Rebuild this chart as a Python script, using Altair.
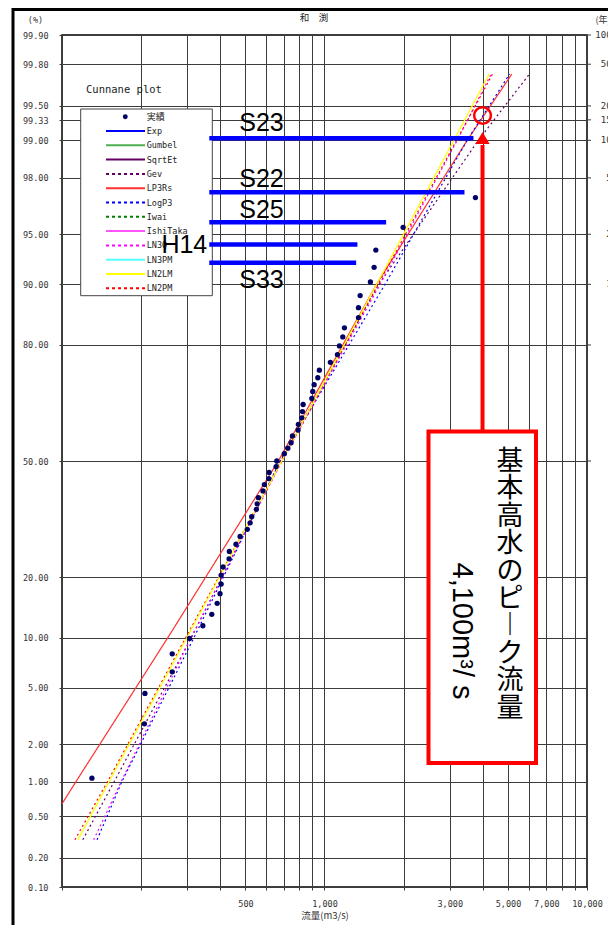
import altair as alt
import pandas as pd
from statistics import NormalDist

# ---------------- data ----------------
station = "和　渕"

# observed annual maxima (Cunnane plotting positions)
obs_flow = [130, 206, 207, 263, 263, 306, 344, 372, 390, 400, 404, 404, 411, 433, 434,
            460, 477, 508, 521, 528, 550, 554, 560, 583, 590, 613, 615, 654, 658, 703,
            725, 746, 755, 793, 795, 819, 824, 829, 895, 902, 913, 943, 956, 1053, 1120,
            1140, 1174, 1191, 1347, 1347, 1367, 1496, 1545, 1569, 1993, 3758]
obs_prob = [1.07, 2.83, 4.59, 6.31, 8.09, 9.91, 11.6, 13.3, 15.1, 16.8, 18.6, 20.4, 22.1, 23.9, 25.6,
            27.3, 29.2, 31.0, 32.7, 34.3, 36.3, 37.8, 39.5, 41.4, 43.2, 44.9, 46.7, 48.4, 50.0, 52.1,
            53.7, 55.3, 57.2, 58.9, 60.5, 62.3, 64.0, 65.9, 67.5, 69.3, 71.0, 72.7, 74.5, 76.3, 78.0,
            79.8, 81.6, 83.3, 85.1, 86.7, 88.5, 90.3, 92.0, 93.7, 95.5, 97.2]

# fitted distributions (flow at given non-exceedance probability, %)
fit_prob = [0.3, 1, 10, 50, 90, 99, 99.75]
fit_lp3rs = [82, 113, 253, 667, 1578, 3497, 5174]
fit_logp3 = [136, 169, 318, 677, 1700, 3494, 5070]
fit_gev = [120, 158, 311, 681, 1610, 3855, 6034]
fit_ln3q = [132, 168, 310, 689, 1629, 3201, 4315]
fit_ln2lm = [115, 151, 299, 687, 1579, 3110, 4240]
fit_ln2pm = [112, 149, 296, 688, 1602, 3187, 4365]

legend_names = ["実績", "Exp", "Gumbel", "SqrtEt", "Gev", "LP3Rs", "LogP3", "Iwai",
                "IshiTaka", "LN3Q", "LN3PM", "LN2LM", "LN2PM"]
legend_colors = ["#000066", "#0000ff", "#4caf50", "#660066", "#660066", "#ff3030", "#0000ff",
                 "#008000", "#ff55ff", "#ff00ff", "#55ffff", "#ffff00", "#ff0000"]
legend_dotted = [False, False, False, False, True, False, True, True, False, True, False, False, True]

# historical floods
event_label = ["S23", "S22", "S25", "H14", "S33"]
event_flow = [3694, 3414, 1717, 1335, 1320]
event_prob = [99.04, 97.44, 95.83, 94.18, 92.48]
event_start_flow = 364

# design flood annotation
design_flow = 4000
design_prob = 99.39
design_text = "基本高水のピーク流量"
design_value = "4,100m³/ s"

# axes
y_tick_pct = [99.9, 99.8, 99.5, 99.33, 99.0, 98.0, 95.0, 90.0, 80.0, 50.0,
              20.0, 10.0, 5.0, 2.0, 1.0, 0.5, 0.2, 0.1]
return_periods = [1000, 500, 200, 150, 100, 50, 20, 10, 5, 2]
x_grid = [100, 200, 300, 400, 500, 600, 700, 800, 900, 1000,
          2000, 3000, 4000, 5000, 6000, 7000, 8000, 9000, 10000]
x_label_values = [500, 1000, 3000, 5000, 7000, 10000]

# ---------------- chart ----------------
nd = NormalDist()
y_tick_z = [nd.inv_cdf(p / 100) for p in y_tick_pct]
z_lo, z_hi = min(y_tick_z), max(y_tick_z)

MONO = "DejaVu Sans Mono"
JP = "Noto Sans CJK JP"
GRID = "#3c3c3c"

x_label_expr = ("indexof([" + ",".join(str(v) for v in x_label_values) +
                "], datum.value) >= 0 ? format(datum.value, ',') : ''")

x_axis = alt.Axis(values=x_grid, labelExpr=x_label_expr, title="流量(m3/s)",
                  grid=True, gridColor=GRID, gridWidth=1, domain=False,
                  tickSize=3, tickColor=GRID, labelFont=MONO, labelFontSize=8.5,
                  labelColor="#333", labelPadding=9, labelFlush=False, labelOverlap=False,
                  titleFont=JP, titleFontSize=9.5, titleFontWeight="normal",
                  titleColor="#333", titlePadding=3)
y_axis = alt.Axis(values=y_tick_z, labelExpr="format(cumulativeNormal(datum.value)*100, '.2f')",
                  title="", grid=True, gridColor=GRID, gridWidth=1, domain=False,
                  tickSize=3, tickColor=GRID, labelFont=MONO, labelFontSize=8.5,
                  labelColor="#333", labelPadding=11, labelOverlap=False, labelFlush=False)

x_scale = alt.Scale(type="log", domain=[100, 10000], nice=False)
y_scale = alt.Scale(domain=[z_lo, z_hi], nice=False, zero=False)
X = alt.X("flow:Q", scale=x_scale, axis=x_axis)
Y = alt.Y("z:Q", scale=y_scale, axis=y_axis)
ZCALC = "quantileNormal(datum.p / 100)"

one = pd.DataFrame({"k": [0]})

layers = []

# outer frame
layers.append(alt.Chart(one).mark_rect(fillOpacity=0, stroke="#000", strokeWidth=3).encode(
    x=alt.value(-49), x2=alt.value(700), y=alt.value(-25.5), y2=alt.value(1000)))

# fitted lines
fits = {"LP3Rs": fit_lp3rs, "LogP3": fit_logp3, "Gev": fit_gev,
        "LN3Q": fit_ln3q, "LN2PM": fit_ln2pm, "LN2LM": fit_ln2lm}
fit_rows = [(m, q, p) for m, qs in fits.items() for q, p in zip(qs, fit_prob)]
fit_df = pd.DataFrame(fit_rows, columns=["method", "flow", "p"])
color_scale = alt.Scale(domain=legend_names, range=legend_colors)
dash_scale = alt.Scale(domain=legend_names,
                       range=[[2, 3] if d else [1, 0] for d in legend_dotted])
layers.append(alt.Chart(fit_df).transform_calculate(z=ZCALC).mark_line(
    clip=True, strokeWidth=1.2).encode(
    x=X, y=Y,
    color=alt.Color("method:N", scale=color_scale, legend=None),
    strokeDash=alt.StrokeDash("method:N", scale=dash_scale, legend=None),
    order=alt.Order("p:Q")))

# observed points
obs_df = pd.DataFrame({"flow": obs_flow, "p": obs_prob})
layers.append(alt.Chart(obs_df).transform_calculate(z=ZCALC).mark_circle(
    size=28, color="#000066", opacity=1).encode(x=X, y=Y))

# legend box
layers.append(alt.Chart(one).mark_rect(fill="white", stroke="#444", strokeWidth=1).encode(
    x=alt.value(18.7), x2=alt.value(150.3), y=alt.value(74), y2=alt.value(260.7)))
layers.append(alt.Chart(one).mark_text(text="Cunnane plot", align="left", baseline="middle",
                                       font=MONO, fontSize=10.5, color="#222").encode(
    x=alt.value(24), y=alt.value(55)))
row0, step = 81.7, 14.3
for i, (name, col, dotted) in enumerate(zip(legend_names, legend_colors, legend_dotted)):
    yv = row0 + step * i
    d = alt.Chart(pd.DataFrame({"method": [name]}))
    if i == 0:
        layers.append(d.mark_circle(size=24, color=col, opacity=1).encode(
            x=alt.value(63.3), y=alt.value(yv)))
        layers.append(d.mark_text(align="left", baseline="middle", font=JP, fontSize=9,
                                  color="#222").encode(
            x=alt.value(84.7), y=alt.value(yv), text="method:N"))
    else:
        kw = dict(color=col, strokeWidth=2)
        if dotted:
            kw["strokeDash"] = [3, 3]
        layers.append(d.mark_rule(**kw).encode(
            x=alt.value(44), x2=alt.value(83), y=alt.value(yv)))
        layers.append(d.mark_text(align="left", baseline="middle", font=MONO, fontSize=8.5,
                                  color="#222").encode(
            x=alt.value(84.7), y=alt.value(yv), text="method:N"))

# historical flood bars
ev_df = pd.DataFrame({"label": event_label, "flow": event_flow, "p": event_prob,
                      "start": [event_start_flow] * len(event_label)})
XS = alt.X("start:Q", scale=x_scale, axis=x_axis)
layers.append(alt.Chart(ev_df).transform_calculate(z=ZCALC).mark_rule(
    strokeWidth=4.5, color="#0000ff").encode(x=XS, x2="flow:Q", y=Y))
label_style = {
    "S23": dict(align="left", baseline="alphabetic", dx=30, dy=-7),
    "S22": dict(align="left", baseline="alphabetic", dx=30, dy=-5),
    "S25": dict(align="left", baseline="alphabetic", dx=30, dy=-4),
    "H14": dict(align="right", baseline="middle", dx=-2, dy=0),
    "S33": dict(align="left", baseline="alphabetic", dx=30, dy=25),
}
for lab in event_label:
    layers.append(alt.Chart(ev_df).transform_filter(alt.datum.label == lab)
                  .transform_calculate(z=ZCALC)
                  .mark_text(font="Liberation Sans", fontSize=25, color="#000",
                             **label_style[lab])
                  .encode(x=XS, y=Y, text="label:N"))

# right-hand return period scale
rp_df = pd.DataFrame({"T": return_periods})
rp_base = alt.Chart(rp_df).transform_calculate(z="quantileNormal(1 - 1 / datum.T)")
layers.append(rp_base.mark_rule(color=GRID, strokeWidth=1).encode(
    x=alt.value(525), x2=alt.value(529), y=Y))
layers.append(rp_base.mark_text(align="right", baseline="middle", font=MONO, fontSize=9,
                                color="#333").encode(x=alt.value(555), y=Y, text="T:N"))

# top texts
layers.append(alt.Chart(one).mark_text(text=station, align="center", baseline="middle",
                                       font=JP, fontSize=9.5, color="#222").encode(
    x=alt.value(252), y=alt.value(-17)))
layers.append(alt.Chart(one).mark_text(text="(%)", align="center", baseline="middle",
                                       font=MONO, fontSize=8.5, color="#333").encode(
    x=alt.value(-26.5), y=alt.value(-15)))
layers.append(alt.Chart(one).mark_text(text="(年)", align="center", baseline="middle",
                                       font=JP, fontSize=9, color="#333").encode(
    x=alt.value(541), y=alt.value(-15)))

# design flood box, arrow and circle
design_df = pd.DataFrame({"flow": [design_flow], "p": [design_prob]})
dbase = alt.Chart(design_df).transform_calculate(z=ZCALC)
layers.append(alt.Chart(one).mark_rect(fill="white", stroke="#ff0000", strokeWidth=4).encode(
    x=alt.value(366.5), x2=alt.value(474), y=alt.value(396.5), y2=alt.value(728)))
layers.append(alt.Chart(one).mark_text(text=list(design_text.replace("ー", "︱")),
                                       align="center", baseline="top", lineHeight=27.4,
                                       font=JP, fontSize=27, color="#000").encode(
    x=alt.value(448), y=alt.value(414)))
layers.append(alt.Chart(one).mark_text(text=design_value, angle=90, align="center",
                                       baseline="middle", font="Liberation Sans",
                                       fontSize=29, color="#000").encode(
    x=alt.value(399.5), y=alt.value(596)))
layers.append(dbase.mark_rule(color="#ff0000", strokeWidth=4).encode(
    x=X, y=alt.value(110), y2=alt.value(396)))
layers.append(dbase.mark_point(shape="triangle-up", filled=True, size=200, color="#ff0000",
                               opacity=1).encode(x=X, y=alt.value(103)))
layers.append(dbase.mark_point(shape="circle", filled=False, size=280, color="#ff0000",
                               strokeWidth=2.5, opacity=1).encode(x=X, y=Y))

chart = alt.layer(*layers).properties(
    width=525, height=852,
    autosize=alt.AutoSizeParams(type="none"),
    padding={"left": 54, "top": 27, "right": 21, "bottom": 38},
    background="white",
).configure_view(stroke="#000", strokeWidth=1.5)

chart.save("out.html", embed_options={"renderer": "svg", "actions": False})
